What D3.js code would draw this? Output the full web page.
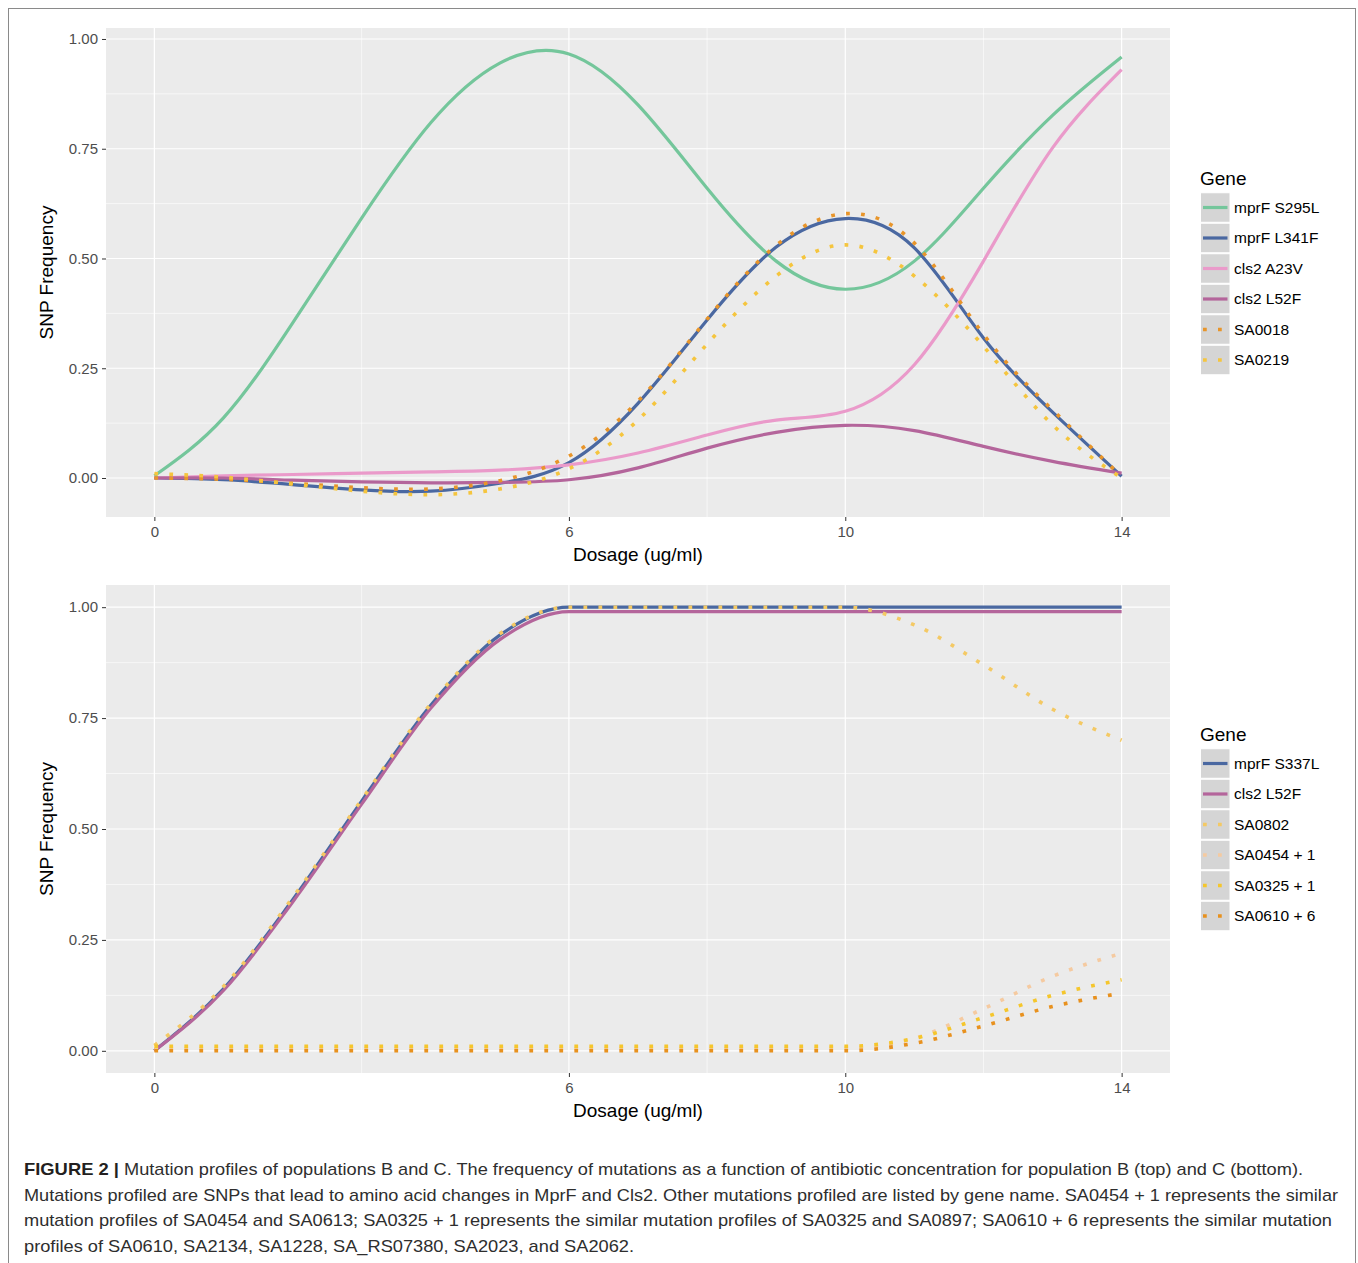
<!DOCTYPE html>
<html>
<head>
<meta charset="utf-8">
<title>Figure 2</title>
<script src="https://d3js.org/d3.v7.min.js"></script>
<style>
body { margin: 0; background: #fff; }
svg text { font-family: "Liberation Sans", Arial, Helvetica, sans-serif; }
</style>
</head>
<body>
<script>
//wrap everything in a self-executing function
(function(){

//dosage steps and tick values
var dosage = [0, 1, 2, 3, 4, 5, 6, 7, 8, 9, 10, 11, 12, 13, 14];
var dosageTicks = [0, 6, 10, 14];
var dosageMinor = [3, 8, 12];
var freqTicks = [0, 0.25, 0.5, 0.75, 1];
var freqMinor = [0.125, 0.375, 0.625, 0.875];

//population B (top panel)
var namesB = ["mprF S295L", "mprF L341F", "cls2 A23V", "cls2 L52F", "SA0018", "SA0219"];
var mprfS295L = [0.005, 0.137, 0.353, 0.592, 0.809, 0.945, 0.966, 0.85, 0.66, 0.494, 0.43, 0.494, 0.66, 0.826, 0.959];
var mprfL341F = [0, -0.004, -0.015, -0.027, -0.03, -0.012, 0.035, 0.17, 0.36, 0.526, 0.591, 0.524, 0.319, 0.15, 0.004];
var cls2A23V = [0, 0.005, 0.008, 0.011, 0.014, 0.018, 0.03, 0.057, 0.098, 0.132, 0.152, 0.258, 0.494, 0.752, 0.93];
var cls2L52F = [0, 0, -0.005, -0.009, -0.011, -0.01, -0.004, 0.023, 0.068, 0.104, 0.12, 0.108, 0.072, 0.038, 0.011];
var sa0018 = [0, -0.003, -0.012, -0.022, -0.025, -0.006, 0.05, 0.175, 0.362, 0.53, 0.602, 0.535, 0.327, 0.155, 0.003];
var sa0219 = [0.01, 0.002, -0.014, -0.03, -0.038, -0.025, 0.021, 0.132, 0.305, 0.46, 0.531, 0.46, 0.3, 0.121, 0];

//population C (bottom panel)
var namesC = ["mprF S337L", "cls2 L52F", "SA0802", "SA0454 + 1", "SA0325 + 1", "SA0610 + 6"];
var mprfS337L = [0, 0.14, 0.34, 0.563, 0.779, 0.937, 1, 1, 1, 1, 1, 1, 1, 1, 1];
var cls2L52FC = [0, 0.136, 0.335, 0.556, 0.772, 0.927, 0.99, 0.99, 0.99, 0.99, 0.99, 0.99, 0.99, 0.99, 0.99];
var sa0802 = [0.012, 0.145, 0.345, 0.566, 0.782, 0.94, 1, 1, 1, 1, 1, 0.96, 0.87, 0.77, 0.7];
var sa0454 = [0.005, 0.005, 0.005, 0.005, 0.005, 0.005, 0.005, 0.005, 0.005, 0.005, 0.006, 0.028, 0.095, 0.168, 0.22];
var sa0325 = [0.01, 0.01, 0.01, 0.01, 0.01, 0.01, 0.01, 0.01, 0.01, 0.01, 0.01, 0.028, 0.075, 0.125, 0.16];
var sa0610 = [0, 0, 0, 0, 0, 0, 0, 0, 0, 0, 0, 0.017, 0.056, 0.1, 0.13];

//caption lines
var captionBold = "FIGURE 2 |";
var captionLines = [
    "Mutation profiles of populations B and C. The frequency of mutations as a function of antibiotic concentration for population B (top) and C (bottom).",
    "Mutations profiled are SNPs that lead to amino acid changes in MprF and Cls2. Other mutations profiled are listed by gene name. SA0454 + 1 represents the similar",
    "mutation profiles of SA0454 and SA0613; SA0325 + 1 represents the similar mutation profiles of SA0325 and SA0897; SA0610 + 6 represents the similar mutation",
    "profiles of SA0610, SA2134, SA1228, SA_RS07380, SA2023, and SA2062."
];

//styles
var colorsB = ["#74c69b", "#4a68a1", "#ea9aca", "#b4659b", "#e8952a", "#f5c53e"];
var dottedB = [false, false, false, false, true, true];
var colorsC = ["#4a68a1", "#b4659b", "#f4c964", "#f5caa0", "#f5c62c", "#e8911e"];
var dottedC = [false, false, true, true, true, true];

var width = 1358,
    height = 1263;

var svg = d3.select("body")
    .append("svg")
    .attr("width", width)
    .attr("height", height);

//figure frame
svg.append("rect")
    .attr("x", 8.5)
    .attr("y", 8.5)
    .attr("width", 1347)
    .attr("height", 1280)
    .attr("fill", "none")
    .attr("stroke", "#8a8a8a")
    .attr("stroke-width", 1);

//shared dosage scale
var x = d3.scaleLinear()
    .domain([-0.7, 14.7])
    .range([106, 1170]);

drawPanel({
    top: 28, bottom: 517,
    yDomain: [-0.0888, 1.025],
    names: namesB,
    series: [mprfS295L, mprfL341F, cls2A23V, cls2L52F, sa0018, sa0219],
    colors: colorsB, dotted: dottedB,
    curve: d3.curveNatural,
    legendY: 178
});

drawPanel({
    top: 585, bottom: 1073,
    yDomain: [-0.05, 1.05],
    names: namesC,
    series: [mprfS337L, cls2L52FC, sa0802, sa0454, sa0325, sa0610],
    colors: colorsC, dotted: dottedC,
    curve: d3.curveMonotoneX,
    legendY: 734
});

drawCaption();

function drawPanel(p){
    var y = d3.scaleLinear()
        .domain(p.yDomain)
        .range([p.bottom, p.top]);

    var g = svg.append("g");

    //panel background
    g.append("rect")
        .attr("x", x.range()[0])
        .attr("y", p.top)
        .attr("width", x.range()[1] - x.range()[0])
        .attr("height", p.bottom - p.top)
        .attr("fill", "#ebebeb");

    //minor then major grid lines
    gridLines(g, y, freqMinor, dosageMinor, 0.6, p);
    gridLines(g, y, freqTicks, dosageTicks, 1.2, p);

    //series lines
    var line = d3.line()
        .x(function(d, i){ return x(dosage[i]); })
        .y(function(d){ return y(d); })
        .curve(p.curve);

    g.selectAll(".series")
        .data(p.series)
        .enter()
        .append("path")
        .attr("class", "series")
        .attr("d", line)
        .attr("fill", "none")
        .attr("stroke", function(d, i){ return p.colors[i]; })
        .attr("stroke-width", function(d, i){ return p.dotted[i] ? 3.6 : 3.2; })
        .attr("stroke-dasharray", function(d, i){ return p.dotted[i] ? "3.75,11.25" : null; })
        .attr("stroke-linecap", "butt");

    //axes
    var yAxis = g.append("g")
        .attr("transform", "translate(" + x.range()[0] + ",0)")
        .call(d3.axisLeft(y).tickValues(freqTicks).tickFormat(d3.format(".2f")).tickSize(4).tickPadding(4));
    var xAxis = g.append("g")
        .attr("transform", "translate(0," + p.bottom + ")")
        .call(d3.axisBottom(x).tickValues(dosageTicks).tickSize(4).tickPadding(5));
    [yAxis, xAxis].forEach(function(a){
        a.select(".domain").remove();
        a.selectAll(".tick line").attr("stroke", "#333").attr("stroke-width", 1);
        a.selectAll(".tick text").attr("fill", "#4d4d4d").style("font-size", "15px");
    });

    //axis titles
    g.append("text")
        .attr("x", (x.range()[0] + x.range()[1]) / 2)
        .attr("y", p.bottom + 37)
        .attr("dy", "0.35em")
        .attr("text-anchor", "middle")
        .style("font-size", "19px")
        .text("Dosage (ug/ml)");

    g.append("text")
        .attr("transform", "translate(46," + ((p.top + p.bottom) / 2) + ") rotate(-90)")
        .attr("dy", "0.35em")
        .attr("text-anchor", "middle")
        .style("font-size", "19px")
        .text("SNP Frequency");

    drawLegend(p);
}

function gridLines(g, y, hVals, vVals, w, p){
    g.selectAll(null)
        .data(hVals)
        .enter()
        .append("line")
        .attr("x1", x.range()[0]).attr("x2", x.range()[1])
        .attr("y1", function(d){ return y(d); })
        .attr("y2", function(d){ return y(d); })
        .attr("stroke", "#fff").attr("stroke-width", w);
    g.selectAll(null)
        .data(vVals)
        .enter()
        .append("line")
        .attr("y1", p.top).attr("y2", p.bottom)
        .attr("x1", function(d){ return x(d); })
        .attr("x2", function(d){ return x(d); })
        .attr("stroke", "#fff").attr("stroke-width", w);
}

function drawLegend(p){
    var lg = svg.append("g").attr("transform", "translate(1200," + p.legendY + ")");

    lg.append("text")
        .attr("x", 0)
        .attr("dy", "0.35em")
        .style("font-size", "19px")
        .text("Gene");

    var rowH = 30.5;
    var rows = lg.selectAll(".key")
        .data(p.names)
        .enter()
        .append("g")
        .attr("class", "key")
        .attr("transform", function(d, i){ return "translate(0," + (29.5 + i * rowH) + ")"; });

    rows.append("rect")
        .attr("x", 0.5)
        .attr("y", -rowH / 2 + 0.5)
        .attr("width", 29.5)
        .attr("height", rowH - 1)
        .attr("fill", "#d5d5d5")
        .attr("stroke", "#fff")
        .attr("stroke-width", 1);

    rows.append("line")
        .attr("x1", 3).attr("x2", 27.5)
        .attr("y1", 0).attr("y2", 0)
        .attr("stroke", function(d, i){ return p.colors[i]; })
        .attr("stroke-width", function(d, i){ return p.dotted[i] ? 3.6 : 3.2; })
        .attr("stroke-dasharray", function(d, i){ return p.dotted[i] ? "3.75,11.25" : null; });

    rows.append("text")
        .attr("x", 34)
        .attr("dy", "0.35em")
        .style("font-size", "15.5px")
        .text(function(d){ return d; });
}

function drawCaption(){
    var c = svg.append("g").attr("fill", "#231f20");
    var lineY = [1175, 1200.5, 1226, 1251.5];
    var lineEnd = [1303, 1338, 1332, 634];

    c.append("text")
        .attr("x", 24)
        .attr("y", lineY[0])
        .style("font-size", "17px")
        .style("font-weight", "bold")
        .attr("textLength", 95)
        .attr("lengthAdjust", "spacingAndGlyphs")
        .text(captionBold);

    captionLines.forEach(function(t, i){
        var x0 = i === 0 ? 124 : 24;
        c.append("text")
            .attr("x", x0)
            .attr("y", lineY[i])
            .style("font-size", "17px")
            .attr("fill", "#2e2e2e")
            .attr("textLength", lineEnd[i] - x0)
            .attr("lengthAdjust", "spacingAndGlyphs")
            .text(t);
    });
}

})();
</script>
</body>
</html>
